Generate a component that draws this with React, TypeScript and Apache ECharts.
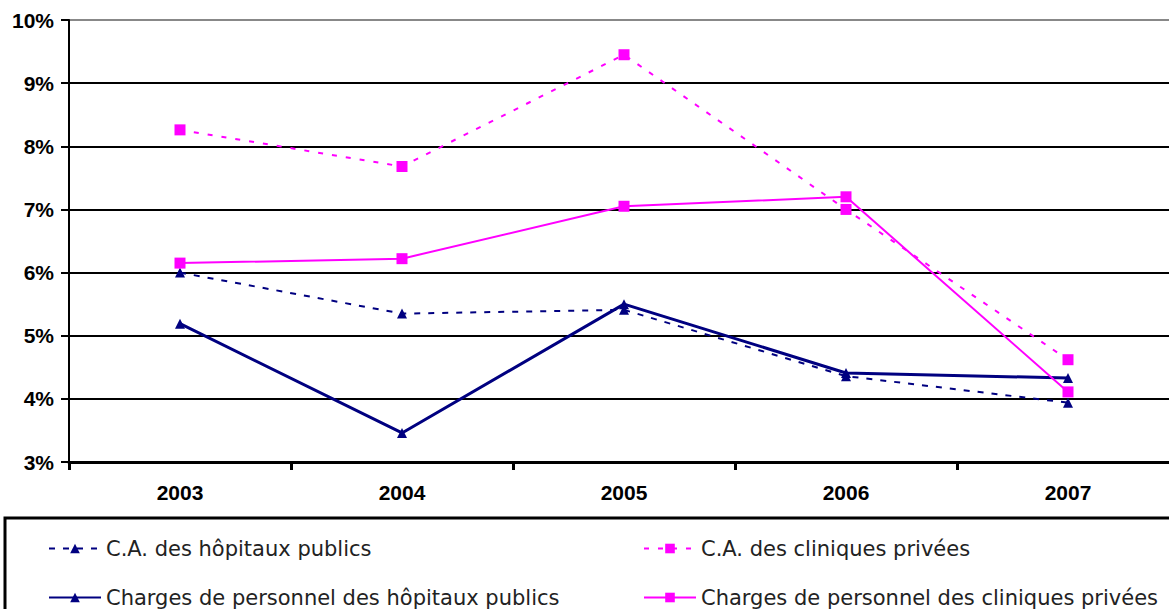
import React, { useEffect, useRef } from "react";
import * as echarts from "echarts";

const categories = ["2003", "2004", "2005", "2006", "2007"];
const caPublics = [6.0, 5.35, 5.41, 4.36, 3.94];
const caCliniques = [8.26, 7.68, 9.45, 7.0, 4.62];
const chargesPublics = [5.19, 3.46, 5.5, 4.41, 4.33];
const chargesCliniques = [6.15, 6.22, 7.05, 7.2, 4.11];
const names = [
  "C.A. des hôpitaux publics",
  "C.A. des cliniques privées",
  "Charges de personnel des hôpitaux publics",
  "Charges de personnel des cliniques privées",
];

const NAVY = "#000080";
const MAGENTA = "#ff00ff";

export default function App() {
  const ref = useRef<HTMLDivElement>(null);
  useEffect(() => {
    if (!ref.current) return;
    const chart = echarts.init(ref.current, null, { renderer: "svg" });
    const legendBase = {
      itemWidth: 52,
      itemHeight: 12,
      textStyle: { fontFamily: "DejaVu Sans", fontSize: 21, color: "#222" },
    };
    chart.setOption({
      animation: false,
      backgroundColor: "#fff",
      grid: { left: 69, width: 1110, top: 20, height: 442, containLabel: false },
      xAxis: {
        type: "category",
        data: categories,
        boundaryGap: true,
        axisLine: { lineStyle: { color: "#000", width: 3 } },
        axisTick: { show: true, length: 8, lineStyle: { color: "#000", width: 3 } },
        axisLabel: {
          fontFamily: "Liberation Sans, Arial",
          fontWeight: "bold",
          fontSize: 21,
          color: "#000",
          margin: 20,
        },
      },
      yAxis: {
        type: "value",
        min: 3,
        max: 10,
        interval: 1,
        axisLine: { show: true, lineStyle: { color: "#000", width: 2 } },
        axisTick: { show: true, length: 8, lineStyle: { color: "#000", width: 2 } },
        axisLabel: {
          formatter: "{value}%",
          fontFamily: "Liberation Sans, Arial",
          fontWeight: "bold",
          fontSize: 21,
          color: "#000",
          margin: 15,
        },
        splitLine: {
          show: true,
          lineStyle: {
            color: ["#000", "#000", "#000", "#000", "#000", "#000", "#000", "#888"],
            width: 2,
          },
        },
      },
      legend: [0, 1, 2, 3].map((i) => ({
        ...legendBase,
        data: [names[i]],
        left: i % 2 === 0 ? 43 : 638,
        top: i < 2 ? 533 : 582,
        itemGap: 4,
      })),
      graphic: [
        {
          type: "rect",
          shape: { x: 5, y: 518, width: 1250, height: 120 },
          style: { fill: "none", stroke: "#000", lineWidth: 3 },
          silent: true,
          z: -1,
        },
      ],
      series: [
        {
          name: names[0],
          type: "line",
          data: caPublics,
          symbol: "triangle",
          symbolSize: 10,
          itemStyle: { color: NAVY },
          lineStyle: { color: NAVY, width: 2, type: [6, 8] },
        },
        {
          name: names[1],
          type: "line",
          data: caCliniques,
          symbol: "rect",
          symbolSize: 11,
          itemStyle: { color: MAGENTA },
          lineStyle: { color: MAGENTA, width: 2, type: [5, 9] },
        },
        {
          name: names[2],
          type: "line",
          data: chargesPublics,
          symbol: "triangle",
          symbolSize: 10,
          itemStyle: { color: NAVY },
          lineStyle: { color: NAVY, width: 3 },
        },
        {
          name: names[3],
          type: "line",
          data: chargesCliniques,
          symbol: "rect",
          symbolSize: 11,
          itemStyle: { color: MAGENTA },
          lineStyle: { color: MAGENTA, width: 2 },
        },
      ],
    });
    return () => chart.dispose();
  }, []);
  return (
    <div
      style={{ position: "fixed", left: 0, top: 0, width: 1169, height: 609, overflow: "hidden" }}
    >
      <div ref={ref} style={{ width: 1200, height: 609 }} />
    </div>
  );
}
